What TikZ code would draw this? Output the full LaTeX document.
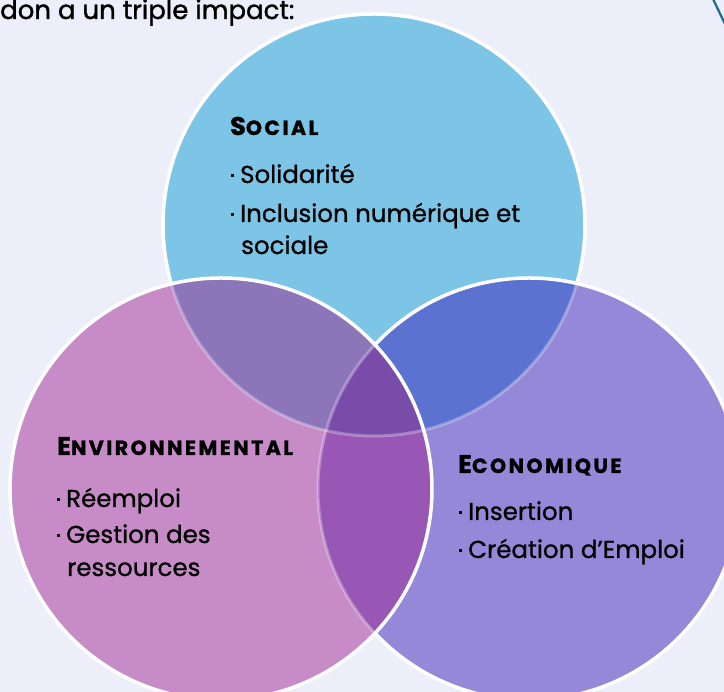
\documentclass[tikz,border=0pt]{standalone}
\usepackage{fontspec}
\setmainfont{Poppins}
\newfontfamily\bodyfont{Poppins}[FakeBold=0.9]
\newfontfamily\introfont{Poppins}[FakeBold=1.3]
\definecolor{bgc}{HTML}{ECEEF9}
\definecolor{colT}{HTML}{7DC5E7}
\definecolor{colL}{HTML}{C78CC7}
\definecolor{colR}{HTML}{9588D8}
\definecolor{colTL}{HTML}{8C76B9}
\definecolor{colTR}{HTML}{5B72D0}
\definecolor{colLR}{HTML}{9957B5}
\definecolor{colTLR}{HTML}{7A4CAA}
\definecolor{arcc}{HTML}{1B6A8A}
\newcommand\hdr[2]{{\normalfont\bfseries\addfontfeatures{LetterSpace=12,FakeBold=1.2}\fontsize{25.5}{25.5}\selectfont #1\fontsize{20.5}{20.5}\selectfont #2}}
\newcommand\bl{\makebox[9pt][l]{\raisebox{6pt}{\rule{3.2pt}{3.2pt}}}}
\tikzset{
  ring/.style={draw=white, line width=3.5pt},
  faint/.style={draw=white, draw opacity=0.3, line width=3pt},
  txt/.style={anchor=base west, inner sep=0pt, font=\bodyfont\fontsize{24.5}{24.5}\selectfont, text=black},
}
\begin{document}
\begin{tikzpicture}[x=1pt,y=1pt]
\useasboundingbox (0,0) rectangle (724,692);
\fill[bgc] (0,0) rectangle (724,692);
\clip (0,0) rectangle (724,692);
\coordinate (cT) at (374,467);
\coordinate (cL) at (221,203);
\coordinate (cR) at (529,203);
\def\rad{211}
% top circle
\fill[colT] (cT) circle[radius=\rad];
\draw[ring] (cT) circle[radius=\rad];
% right circle
\fill[colR] (cR) circle[radius=\rad];
\begin{scope}
  \clip (cT) circle[radius=\rad];
  \fill[colTR] (cR) circle[radius=\rad];
\end{scope}
\begin{scope}
  \clip (cR) circle[radius=\rad];
  \draw[faint] (cT) circle[radius=\rad];
\end{scope}
\draw[ring] (cR) circle[radius=\rad];
% left circle
\fill[colL] (cL) circle[radius=\rad];
\begin{scope}
  \clip (cL) circle[radius=\rad];
  \begin{scope}
    \clip (cT) circle[radius=\rad];
    \fill[colTL] (cL) circle[radius=\rad];
  \end{scope}
  \begin{scope}
    \clip (cR) circle[radius=\rad];
    \fill[colLR] (cL) circle[radius=\rad];
  \end{scope}
  \begin{scope}
    \clip (cR) circle[radius=\rad];
    \clip (cT) circle[radius=\rad];
    \fill[colTLR] (cL) circle[radius=\rad];
  \end{scope}
  \draw[faint] (cT) circle[radius=\rad];
  \draw[faint] (cR) circle[radius=\rad];
\end{scope}
\draw[ring] (cL) circle[radius=\rad];
% corner arc
\draw[arcc, line width=2.2pt] (713,693) -- (725,668);
% texts
\node[txt, font=\introfont\fontsize{26}{26}\selectfont] (intro) at (0,673) {don a un triple impact:};
\node[txt] (hs) at (230,557) {\hdr{S}{OCIAL}};
\node[txt] (s1) at (231,509) {\bl Solidarité};
\node[txt] (s2) at (231,470) {\bl Inclusion numérique et};
\node[txt] (s3) at (241,438) {sociale};
\node[txt] (he) at (57,237) {\hdr{E}{NVIRONNEMENTAL}};
\node[txt] (e1) at (57,185) {\bl Réemploi};
\node[txt] (e2) at (57,149) {\bl Gestion des};
\node[txt] (e3) at (67,116) {ressources};
\node[txt] (hc) at (458,219) {\hdr{E}{CONOMIQUE}};
\node[txt] (c1) at (459,172) {\bl Insertion};
\node[txt] (c2) at (459,134) {\bl Création d’Emploi};
\end{tikzpicture}
\end{document}
